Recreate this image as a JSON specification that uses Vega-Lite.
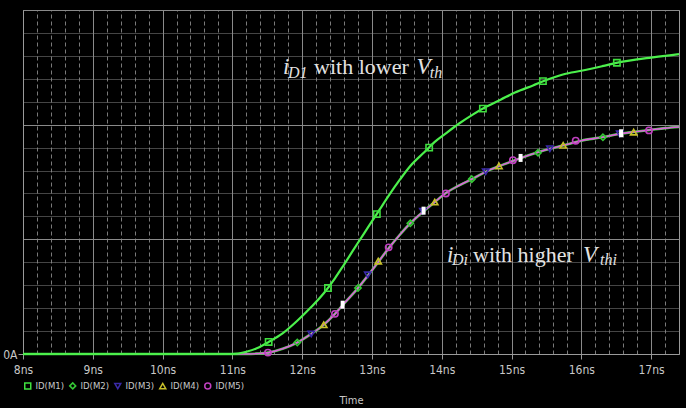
{
  "$schema": "https://vega.github.io/schema/vega-lite/v6.json",
  "width": 656,
  "height": 344,
  "autosize": {"type": "none"},
  "padding": {"left": 23, "top": 10, "right": 7, "bottom": 54},
  "background": "#000000",
  "config": {
    "view": {"stroke": "#9a9a9a", "strokeWidth": 1},
    "font": "DejaVu Sans Condensed, Liberation Sans Narrow, Liberation Sans"
  },
  "datasets": {
    "curves": [
      {"t": 8.0, "m1": 0, "mi": 0},
      {"t": 10.0, "m1": 0, "mi": 0},
      {"t": 11.0, "m1": 0, "mi": 0},
      {"t": 11.2, "m1": 0.02, "mi": 0.0},
      {"t": 11.35, "m1": 0.05, "mi": 0.003},
      {"t": 11.52, "m1": 0.105, "mi": 0.012},
      {"t": 11.72, "m1": 0.18, "mi": 0.045},
      {"t": 11.93, "m1": 0.29, "mi": 0.1},
      {"t": 12.13, "m1": 0.41, "mi": 0.175},
      {"t": 12.31, "m1": 0.53, "mi": 0.255},
      {"t": 12.47, "m1": 0.66, "mi": 0.35},
      {"t": 12.6, "m1": 0.78, "mi": 0.44},
      {"t": 12.8, "m1": 0.97, "mi": 0.575},
      {"t": 12.95, "m1": 1.11, "mi": 0.69},
      {"t": 13.1, "m1": 1.25, "mi": 0.81},
      {"t": 13.25, "m1": 1.39, "mi": 0.93},
      {"t": 13.4, "m1": 1.52, "mi": 1.04},
      {"t": 13.55, "m1": 1.64, "mi": 1.14},
      {"t": 13.75, "m1": 1.76, "mi": 1.25},
      {"t": 13.9, "m1": 1.85, "mi": 1.325},
      {"t": 14.05, "m1": 1.92, "mi": 1.4},
      {"t": 14.25, "m1": 2.01, "mi": 1.47},
      {"t": 14.45, "m1": 2.09, "mi": 1.53},
      {"t": 14.65, "m1": 2.16, "mi": 1.595},
      {"t": 14.85, "m1": 2.22, "mi": 1.645},
      {"t": 15.05, "m1": 2.28, "mi": 1.69},
      {"t": 15.3, "m1": 2.34, "mi": 1.745},
      {"t": 15.55, "m1": 2.4, "mi": 1.79},
      {"t": 15.75, "m1": 2.44, "mi": 1.82},
      {"t": 16.0, "m1": 2.47, "mi": 1.86},
      {"t": 16.3, "m1": 2.51, "mi": 1.89},
      {"t": 16.55, "m1": 2.545, "mi": 1.92},
      {"t": 16.8, "m1": 2.57, "mi": 1.94},
      {"t": 17.0, "m1": 2.585, "mi": 1.955},
      {"t": 17.2, "m1": 2.6, "mi": 1.97},
      {"t": 17.4, "m1": 2.615, "mi": 1.98}
    ],
    "markers": [
      {"series": "ID(M1)", "t": 11.52, "i": 0.105},
      {"series": "ID(M1)", "t": 12.37, "i": 0.575},
      {"series": "ID(M1)", "t": 13.07, "i": 1.22},
      {"series": "ID(M1)", "t": 13.82, "i": 1.8},
      {"series": "ID(M1)", "t": 14.59, "i": 2.14},
      {"series": "ID(M1)", "t": 15.45, "i": 2.38},
      {"series": "ID(M1)", "t": 16.51, "i": 2.54},
      {"series": "ID(M2)", "t": 11.93, "i": 0.1},
      {"series": "ID(M2)", "t": 12.8, "i": 0.575},
      {"series": "ID(M2)", "t": 13.55, "i": 1.14},
      {"series": "ID(M2)", "t": 14.43, "i": 1.525},
      {"series": "ID(M2)", "t": 15.38, "i": 1.755},
      {"series": "ID(M2)", "t": 16.31, "i": 1.89},
      {"series": "ID(M3)", "t": 12.13, "i": 0.175},
      {"series": "ID(M3)", "t": 12.94, "i": 0.69},
      {"series": "ID(M3)", "t": 13.73, "i": 1.245},
      {"series": "ID(M3)", "t": 14.63, "i": 1.59},
      {"series": "ID(M3)", "t": 15.55, "i": 1.79},
      {"series": "ID(M3)", "t": 16.55, "i": 1.92},
      {"series": "ID(M4)", "t": 12.31, "i": 0.255},
      {"series": "ID(M4)", "t": 13.09, "i": 0.81},
      {"series": "ID(M4)", "t": 13.9, "i": 1.325},
      {"series": "ID(M4)", "t": 14.82, "i": 1.64},
      {"series": "ID(M4)", "t": 15.74, "i": 1.82},
      {"series": "ID(M4)", "t": 16.75, "i": 1.935},
      {"series": "ID(M5)", "t": 11.51, "i": 0.012},
      {"series": "ID(M5)", "t": 12.47, "i": 0.35},
      {"series": "ID(M5)", "t": 13.24, "i": 0.93},
      {"series": "ID(M5)", "t": 14.06, "i": 1.4},
      {"series": "ID(M5)", "t": 15.02, "i": 1.69},
      {"series": "ID(M5)", "t": 15.92, "i": 1.86},
      {"series": "ID(M5)", "t": 16.97, "i": 1.95}
    ],
    "highlights": [
      {"t": 12.58, "i": 0.43},
      {"t": 13.74, "i": 1.25},
      {"t": 15.13, "i": 1.71},
      {"t": 16.57, "i": 1.925}
    ],
    "notes": [
      {"t": 11.726, "i": 2.442, "txt": "i", "kind": "it"},
      {"t": 11.797, "i": 2.41, "txt": "D1", "kind": "sub"},
      {"t": 12.17, "i": 2.442, "txt": "with lower", "kind": "rm"},
      {"t": 13.64, "i": 2.442, "txt": "V", "kind": "it"},
      {"t": 13.83, "i": 2.41, "txt": "th", "kind": "sub"},
      {"t": 14.076, "i": 0.802, "txt": "i", "kind": "it"},
      {"t": 14.147, "i": 0.772, "txt": "Di", "kind": "sub"},
      {"t": 14.448, "i": 0.802, "txt": "with higher", "kind": "rm"},
      {"t": 16.024, "i": 0.802, "txt": "V", "kind": "it"},
      {"t": 16.268, "i": 0.772, "txt": "thi", "kind": "sub"}
    ]
  },
  "resolve": {"axis": {"x": "independent", "y": "independent"}},
  "layer": [
    {
      "data": {"name": "curves"},
      "mark": {"type": "line", "interpolate": "monotone", "color": "#3fd83f", "strokeWidth": 2.6},
      "encoding": {
        "x": {
          "field": "t", "type": "quantitative",
          "scale": {"domain": [8, 17.4], "nice": false, "zero": false},
          "axis": {
            "values": [8, 9, 10, 11, 12, 13, 14, 15, 16, 17],
            "labelExpr": "datum.value + 'ns'",
            "grid": true, "gridColor": "#8a8a8a", "gridWidth": 1,
            "domainColor": "#9a9a9a", "tickColor": "#9a9a9a", "tickSize": 5,
            "labelColor": "#c8c8c8", "labelFontSize": 12, "labelPadding": 5,
            "labelFlush": false, "labelOverlap": false,
            "title": "Time", "titleColor": "#c8c8c8", "titleFontSize": 11,
            "titleFontWeight": "normal", "titlePadding": 19
          }
        },
        "y": {
          "field": "mi", "type": "quantitative",
          "scale": {"domain": [0, 3], "nice": false, "zero": true},
          "axis": {
            "values": [0, 1, 2, 3],
            "labelExpr": "datum.value === 0 ? '0A' : ''",
            "grid": true, "gridColor": "#8a8a8a", "gridWidth": 1,
            "domainColor": "#9a9a9a", "tickSize": 5,
            "tickColor": {"condition": {"test": "datum.value === 0", "value": "#9a9a9a"}, "value": "transparent"},
            "labelColor": "#c8c8c8", "labelFontSize": 12, "labelPadding": 1,
            "title": null
          }
        }
      }
    },
    {
      "data": {"name": "curves"},
      "mark": {"type": "line", "interpolate": "monotone", "color": "#dd5fdd", "strokeWidth": 1.6},
      "encoding": {
        "x": {
          "field": "t", "type": "quantitative",
          "axis": {
            "values": [8.2, 8.4, 8.6, 8.8, 9.2, 9.4, 9.6, 9.8, 10.2, 10.4, 10.6, 10.8, 11.2, 11.4, 11.6, 11.8, 12.2, 12.4, 12.6, 12.8, 13.2, 13.4, 13.6, 13.8, 14.2, 14.4, 14.6, 14.8, 15.2, 15.4, 15.6, 15.8, 16.2, 16.4, 16.6, 16.8, 17.2],
            "grid": true, "gridColor": "#7a7a7a", "gridDash": [4, 3], "gridWidth": 1,
            "labels": false, "ticks": false, "domain": false, "title": null
          }
        },
        "y": {
          "field": "mi", "type": "quantitative",
          "axis": {
            "values": [0.2, 0.4, 0.6, 0.8, 1.2, 1.4, 1.6, 1.8, 2.2, 2.4, 2.6, 2.8],
            "grid": true, "gridColor": "#8a8a8a", "gridDash": [1, 1], "gridWidth": 1,
            "labels": false, "ticks": false, "domain": false, "title": null
          }
        }
      }
    },
    {
      "data": {"name": "curves"},
      "mark": {"type": "line", "interpolate": "monotone", "color": "#4cf04c", "strokeWidth": 2.2},
      "encoding": {
        "x": {"field": "t", "type": "quantitative", "axis": null},
        "y": {"field": "m1", "type": "quantitative", "axis": null}
      }
    },
    {
      "data": {"name": "markers"},
      "mark": {"type": "point", "filled": false, "size": 40, "strokeWidth": 1.6, "opacity": 1},
      "encoding": {
        "x": {"field": "t", "type": "quantitative", "axis": null},
        "y": {"field": "i", "type": "quantitative", "axis": null},
        "color": {
          "field": "series", "type": "nominal",
          "scale": {
            "domain": ["ID(M1)", "ID(M2)", "ID(M3)", "ID(M4)", "ID(M5)"],
            "range": ["#3fe03f", "#35c835", "#3a2aa8", "#c8c02a", "#c040c0"]
          },
          "legend": {
            "orient": "none", "legendX": 0, "legendY": 371,
            "direction": "horizontal", "title": null,
            "labelColor": "#c8c8c8", "labelFontSize": 9.5,
            "symbolSize": 36, "symbolStrokeWidth": 1.5,
            "columnPadding": 1, "labelOffset": 3
          }
        },
        "shape": {
          "field": "series", "type": "nominal",
          "scale": {
            "domain": ["ID(M1)", "ID(M2)", "ID(M3)", "ID(M4)", "ID(M5)"],
            "range": ["square", "diamond", "triangle-down", "triangle-up", "circle"]
          },
          "legend": {
            "orient": "none", "legendX": 0, "legendY": 371,
            "direction": "horizontal", "title": null,
            "labelColor": "#c8c8c8", "labelFontSize": 9.5,
            "symbolSize": 36, "symbolStrokeWidth": 1.5,
            "columnPadding": 1, "labelOffset": 3
          }
        }
      }
    },
    {
      "data": {"name": "highlights"},
      "mark": {"type": "tick", "orient": "vertical", "color": "#ffffff", "size": 8, "thickness": 4, "opacity": 1},
      "encoding": {
        "x": {"field": "t", "type": "quantitative", "axis": null},
        "y": {"field": "i", "type": "quantitative", "axis": null}
      }
    },
    {
      "data": {"name": "notes"},
      "transform": [{"filter": "datum.kind === 'it'"}],
      "mark": {"type": "text", "align": "left", "baseline": "alphabetic", "font": "Liberation Serif", "fontStyle": "italic", "fontSize": 23, "color": "#e2e2e2"},
      "encoding": {
        "x": {"field": "t", "type": "quantitative", "axis": null},
        "y": {"field": "i", "type": "quantitative", "axis": null},
        "text": {"field": "txt"}
      }
    },
    {
      "data": {"name": "notes"},
      "transform": [{"filter": "datum.kind === 'sub'"}],
      "mark": {"type": "text", "align": "left", "baseline": "alphabetic", "font": "Liberation Serif", "fontStyle": "italic", "fontSize": 16, "color": "#e2e2e2"},
      "encoding": {
        "x": {"field": "t", "type": "quantitative", "axis": null},
        "y": {"field": "i", "type": "quantitative", "axis": null},
        "text": {"field": "txt"}
      }
    },
    {
      "data": {"name": "notes"},
      "transform": [{"filter": "datum.kind === 'rm'"}],
      "mark": {"type": "text", "align": "left", "baseline": "alphabetic", "font": "Liberation Serif", "fontSize": 22, "color": "#e2e2e2"},
      "encoding": {
        "x": {"field": "t", "type": "quantitative", "axis": null},
        "y": {"field": "i", "type": "quantitative", "axis": null},
        "text": {"field": "txt"}
      }
    }
  ]
}
